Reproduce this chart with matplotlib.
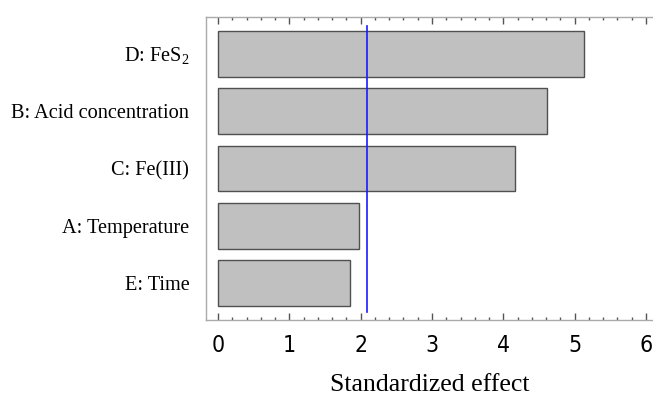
import matplotlib
matplotlib.use("Agg")
import matplotlib.pyplot as plt
from matplotlib.ticker import MultipleLocator

plt.rcParams["mathtext.fontset"] = "custom"
plt.rcParams["mathtext.rm"] = "Liberation Serif"

# factors, top to bottom as drawn
factors = ["D: FeS$_\\mathrm{2}$", "B: Acid concentration", "C: Fe(III)",
           "A: Temperature", "E: Time"]
effects = [5.13, 4.61, 4.16, 1.98, 1.85]
threshold = 2.085

fig = plt.figure(figsize=(6.53, 4.01), dpi=100)
ax = fig.add_axes([0.3155, 0.202, 0.6845, 0.7556])

ypos = list(range(len(factors)))[::-1]
ax.barh(ypos, effects, height=0.8, color="#c0c0c0",
        edgecolor="#505050", linewidth=1.0)
ax.axvline(threshold, ymin=0.026, ymax=0.97, color="#1a1aff", linewidth=1.2)

ax.set_xlim(-0.17, 6.10)
ax.set_ylim(-0.65, 4.65)
ax.set_yticks(ypos)
ax.set_yticklabels(factors, family="Liberation Serif", fontsize=14.6)
ax.tick_params(axis="y", length=0, pad=12)

ax.xaxis.set_major_locator(MultipleLocator(1))
ax.xaxis.set_minor_locator(MultipleLocator(0.2))
ax.tick_params(axis="x", which="both", direction="in", top=True,
               color="#555555", width=1.0, labelsize=16.5, pad=10)
ax.tick_params(axis="x", which="major", length=5)
ax.tick_params(axis="x", which="minor", length=2.5)
for lab in ax.get_xticklabels():
    lab.set_family("DejaVu Sans")
    lab.set_stretch("condensed")

ax.set_xlabel("Standardized effect", family="Liberation Serif",
              fontsize=18.5, labelpad=12)

for side in ("top", "left", "bottom"):
    ax.spines[side].set_color("#aaaaaa")
    ax.spines[side].set_linewidth(1.0)
ax.spines["right"].set_visible(False)

fig.savefig("out.png", dpi=100)
